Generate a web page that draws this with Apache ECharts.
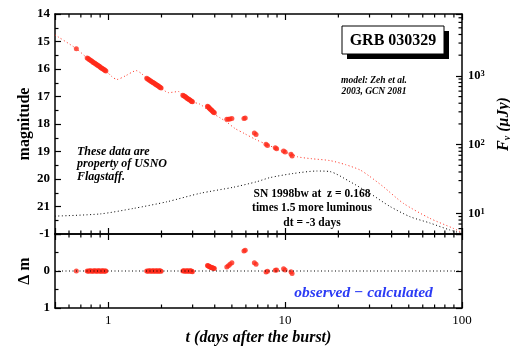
<!DOCTYPE html>
<html><head><meta charset="utf-8">
<script src="https://cdn.jsdelivr.net/npm/echarts@6/dist/echarts.min.js"></script>
<style>html,body{margin:0;padding:0;background:#fff}#c{width:510px;height:348px}</style>
</head><body><div id="c"></div>
<script>
// observed epochs (days) and magnitudes
const obsT   = [0.66,
                0.76,0.77,0.78,0.79,0.80,0.81,0.82,0.83,0.84,0.85,0.86,0.87,0.88,0.89,0.90,0.91,0.92,0.93,0.94,0.95,0.96,0.97,
                1.65,1.67,1.69,1.71,1.73,1.75,1.77,1.79,1.81,1.83,1.85,1.87,1.89,1.91,1.93,1.95,1.97,1.99,
                2.64,2.67,2.70,2.73,2.76,2.79,2.82,2.85,2.88,2.91,2.94,2.97,2.99,
                3.64,3.67,3.70,3.73,3.77,3.80,3.84,3.87,3.91,3.94,3.98,
                4.68,4.78,4.88,5.00,5.85,5.95,6.70,6.85,7.80,7.95,8.80,8.95,9.80,10.00,10.80,10.95];
const obsMag = [15.26,
                15.60,15.62,15.65,15.67,15.70,15.72,15.75,15.77,15.79,15.82,15.84,15.86,15.88,15.90,15.93,15.95,15.97,15.99,16.01,16.03,16.05,16.07,
                16.34,16.36,16.38,16.41,16.43,16.45,16.47,16.49,16.51,16.53,16.55,16.57,16.59,16.61,16.63,16.65,16.67,16.69,
                16.95,16.97,16.99,17.01,17.04,17.06,17.08,17.10,17.12,17.14,17.16,17.18,17.19,
                17.35,17.37,17.40,17.42,17.45,17.47,17.50,17.52,17.55,17.57,17.59,
                17.83,17.83,17.82,17.80,17.80,17.78,18.33,18.38,18.74,18.78,18.86,18.90,18.98,19.02,19.10,19.16];
// residuals observed - calculated
const resDm  = [0.00,
                0.00,0.01,0.00,-0.01,0.00,0.01,0.00,0.00,-0.01,0.00,0.01,0.00,-0.01,0.00,0.00,0.01,0.00,-0.01,0.00,0.01,0.00,0.00,
                0.00,0.01,0.00,-0.01,0.00,0.01,0.00,-0.01,0.00,0.01,0.00,-0.01,0.00,0.01,0.00,-0.01,0.00,0.01,
                0.00,-0.01,0.00,0.01,0.00,-0.01,0.00,0.01,0.00,-0.01,0.00,0.01,0.02,
                -0.15,-0.14,-0.13,-0.12,-0.11,-0.10,-0.09,-0.085,-0.08,-0.075,-0.07,
                -0.11,-0.14,-0.18,-0.22,-0.54,-0.56,-0.22,-0.18,0.03,0.01,-0.02,-0.03,-0.06,-0.03,0.02,0.07];
// model (Zeh et al.) afterglow + SN
const modelT   = [0.5,0.66,0.76,0.97,1.05,1.12,1.25,1.44,1.55,1.65,1.99,2.19,2.5,2.64,2.99,3.3,3.64,3.98,4.3,4.68,5.2,5.9,6.8,7.9,8.9,9.9,10.9,11.7,14,17.9,22,26.5,30,35.9,46.5,65.8,89,100];
const modelMag = [14.76,15.26,15.60,16.07,16.28,16.38,16.25,16.06,16.18,16.34,16.69,16.86,16.82,16.95,17.19,17.28,17.48,17.65,17.78,17.93,18.16,18.35,18.56,18.75,18.89,19.03,19.08,19.19,19.26,19.33,19.48,19.67,19.9,20.28,20.88,21.43,21.79,21.95];
// SN 1998bw template
const snT   = [0.5,0.9,1.39,2.14,3.31,5.1,6.9,8.2,11.1,15.1,17.9,23.3,30.1,39.2,50.8,65.8,85,100];
const snMag = [21.35,21.27,21.07,20.83,20.52,20.30,20.10,19.95,19.80,19.71,19.73,20.10,20.52,21.00,21.37,21.60,21.85,21.98];
// zero line in residual panel
const zeroT  = [0.5,100];
const zeroDm = [0,0];
// axis ranges / ticks
const tRange = [0.5,100];
const magRange = [14,22];
const dmRange = [-1,1];
const fluxZeroMag = 23.75;          // magnitude where F = 1 uJy
const xMinorTicks = [0.6,0.7,0.8,0.9,2,3,4,5,6,7,8,9,20,30,40,50,60,70,80,90];
const fluxMinorTicks = [6,7,8,9,20,30,40,50,60,70,80,90,200,300,400,500,600,700,800,900,2000,3000,4000,5000,6000,7000];

const SERIF = '"Liberation Serif","Times New Roman",serif';
const RED = '#ff2a1a';
const fluxMin = Math.pow(10,(fluxZeroMag-magRange[1])/2.5);
const fluxMax = Math.pow(10,(fluxZeroMag-magRange[0])/2.5);
const isPow10 = v => Math.abs(Math.log10(v) - Math.round(Math.log10(v))) < 1e-6;

const axLine = {show:true, onZero:false, lineStyle:{color:'#000', width:1.5}};
const tickIn = (len) => ({show:true, inside:true, length:len, lineStyle:{color:'#000', width:1.2}});

function xAx(grid, pos, labels) {
  return {type:'log', logBase:10, gridIndex:grid, position:pos, min:tRange[0], max:tRange[1],
    axisLine:axLine, axisTick:tickIn(6), splitLine:{show:false},
    axisLabel:{show:labels, margin:6, color:'#000', fontFamily:SERIF, fontSize:13,
      formatter: v => isPow10(v) ? String(Math.round(v)) : ''},
    name: (labels ? 't (days after the burst)' : ''), nameLocation:'middle', nameGap:22, nameMoveOverlap:false,
    nameTextStyle:{fontFamily:SERIF, fontSize:16, fontWeight:'bold', fontStyle:'italic', color:'#000'}};
}

function minorX(xi, yi, yv) {
  return {type:'custom', xAxisIndex:xi, yAxisIndex:yi, silent:true, clip:false, z:5,
    data: xMinorTicks.map(t => [t, yv]),
    renderItem: (params, api) => {
      const cs = params.coordSys;
      const x = api.coord([api.value(0), api.value(1)])[0];
      const st = {stroke:'#000', lineWidth:1.2};
      return {type:'group', children:[
        {type:'line', shape:{x1:x, y1:cs.y, x2:x, y2:cs.y+3.5}, style:st},
        {type:'line', shape:{x1:x, y1:cs.y+cs.height, x2:x, y2:cs.y+cs.height-3.5}, style:st}
      ]};
    }};
}

const option = {
  animation:false,
  backgroundColor:'#fff',
  grid:[
    {left:55, top:14, right:48, height:220, outerBoundsMode:'none', containLabel:false},
    {left:55, top:234, right:48, height:74, outerBoundsMode:'none', containLabel:false}
  ],
  xAxis:[ xAx(0,'bottom',false), xAx(0,'top',false), xAx(1,'bottom',true), xAx(1,'top',false) ],
  yAxis:[
    {type:'value', gridIndex:0, position:'left', inverse:true, min:magRange[0], max:magRange[1], interval:1,
     axisLine:axLine, axisTick:tickIn(6), minorTick:{show:true, splitNumber:2, length:3.5, lineStyle:{color:'#000', width:1.2}},
     splitLine:{show:false}, minorSplitLine:{show:false},
     axisLabel:{margin:5, color:'#000', fontFamily:SERIF, fontSize:13, fontWeight:'bold',
       formatter: v => v === magRange[1] ? '' : String(v)},
     name:'magnitude', nameLocation:'middle', nameGap:22, nameMoveOverlap:false,
     nameTextStyle:{fontFamily:SERIF, fontSize:16, fontWeight:'bold', color:'#000'}},
    {type:'log', logBase:10, gridIndex:0, position:'right', min:fluxMin, max:fluxMax,
     axisLine:axLine, axisTick:tickIn(6), splitLine:{show:false},
     axisLabel:{margin:6, color:'#000', fontFamily:SERIF, fontSize:12.5, fontWeight:'bold',
       formatter: v => isPow10(v) ? '10{s|' + Math.round(Math.log10(v)) + '}' : '',
       rich:{s:{fontFamily:SERIF, fontSize:8.5, fontWeight:'bold', verticalAlign:'top', color:'#000'}}},
     name:'F{n|ν} (μJy)', nameLocation:'middle', nameGap:34, nameRotate:90, nameMoveOverlap:false,
     nameTextStyle:{fontFamily:SERIF, fontSize:16, fontWeight:'bold', fontStyle:'italic', color:'#000',
       rich:{n:{fontFamily:SERIF, fontSize:10, fontWeight:'bold', fontStyle:'italic', color:'#000', verticalAlign:'bottom'}}}},
    {type:'value', gridIndex:1, position:'left', inverse:true, min:dmRange[0], max:dmRange[1], interval:1,
     axisLine:axLine, axisTick:tickIn(6), minorTick:{show:true, splitNumber:2, length:3.5, lineStyle:{color:'#000', width:1.2}},
     splitLine:{show:false},
     axisLabel:{margin:5, color:'#000', fontFamily:SERIF, fontSize:13, fontWeight:'bold'},
     name:'Δ m', nameLocation:'middle', nameGap:22, nameMoveOverlap:false,
     nameTextStyle:{fontFamily:SERIF, fontSize:16, fontWeight:'bold', color:'#000'}},
    {type:'value', gridIndex:1, position:'right', inverse:true, min:dmRange[0], max:dmRange[1], interval:1,
     axisLine:axLine, axisTick:tickIn(6), minorTick:{show:true, splitNumber:2, length:3.5, lineStyle:{color:'#000', width:1.2}},
     splitLine:{show:false}, axisLabel:{show:false}}
  ],
  series:[
    {type:'line', xAxisIndex:0, yAxisIndex:0, showSymbol:false, smooth:0.25, silent:true,
     data: snT.map((t,i)=>[t, snMag[i]]), lineStyle:{color:'#000', width:1, type:[1,2.5]}},
    {type:'line', xAxisIndex:0, yAxisIndex:0, showSymbol:false, smooth:0.25, silent:true,
     data: modelT.map((t,i)=>[t, modelMag[i]]), lineStyle:{color:RED, width:1, type:[1,2.5]}},
    {type:'scatter', xAxisIndex:0, yAxisIndex:0, symbolSize:5, silent:true,
     data: obsT.map((t,i)=>[t, obsMag[i]]), itemStyle:{color:RED}},
    {type:'line', xAxisIndex:2, yAxisIndex:2, showSymbol:false, silent:true,
     data: zeroT.map((t,i)=>[t, zeroDm[i]]), lineStyle:{color:'#000', width:1, type:[1,2.5]}},
    {type:'scatter', xAxisIndex:2, yAxisIndex:2, symbolSize:5, silent:true,
     data: obsT.map((t,i)=>[t, resDm[i]]), itemStyle:{color:RED}},
    minorX(0, 0, 18),
    minorX(2, 2, 0),
    {type:'custom', xAxisIndex:0, yAxisIndex:1, silent:true, clip:false, z:5,
     data: fluxMinorTicks.map(f => [tRange[1], f]),
     renderItem: (params, api) => {
       const cs = params.coordSys;
       const p = api.coord([api.value(0), api.value(1)]);
       const x = cs.x + cs.width;
       return {type:'line', shape:{x1:x, y1:p[1], x2:x-3.5, y2:p[1]}, style:{stroke:'#000', lineWidth:1.2}};
     }}
  ],
  graphic:[
    {type:'rect', shape:{x:347, y:31, width:102, height:28}, style:{fill:'#000'}, z:10},
    {type:'rect', shape:{x:342, y:26, width:102, height:28}, style:{fill:'#fff', stroke:'#000', lineWidth:1}, z:11},
    {type:'text', z:12, style:{x:393, y:40.5, text:'GRB 030329', textAlign:'center', textVerticalAlign:'middle',
      font:'bold 16px ' + SERIF, fill:'#000'}},
    {type:'text', z:12, style:{x:374, y:86, text:'model: Zeh et al.\n2003, GCN 2081', textAlign:'center', textVerticalAlign:'middle',
      font:'bold italic 9.5px ' + SERIF, lineHeight:10.5, fill:'#000'}},
    {type:'text', z:12, style:{x:77, y:164, text:'These data are\nproperty of USNO\nFlagstaff.', textAlign:'left', textVerticalAlign:'middle',
      font:'bold italic 12px ' + SERIF, lineHeight:12.5, fill:'#000'}},
    {type:'text', z:12, style:{x:312, y:208.5, text:'SN 1998bw at  z = 0.168\ntimes 1.5 more luminous\ndt = -3 days', textAlign:'center', textVerticalAlign:'middle',
      font:'bold 11.5px ' + SERIF, lineHeight:14.3, fill:'#000'}},
    {type:'text', z:12, style:{x:363.5, y:292.5, text:'observed − calculated', textAlign:'center', textVerticalAlign:'middle',
      font:'bold italic 15.5px ' + SERIF, fill:'#2b3bf5'}}
  ]
};
echarts.init(document.getElementById('c'), null, {renderer:'canvas'}).setOption(option);
</script></body></html>
